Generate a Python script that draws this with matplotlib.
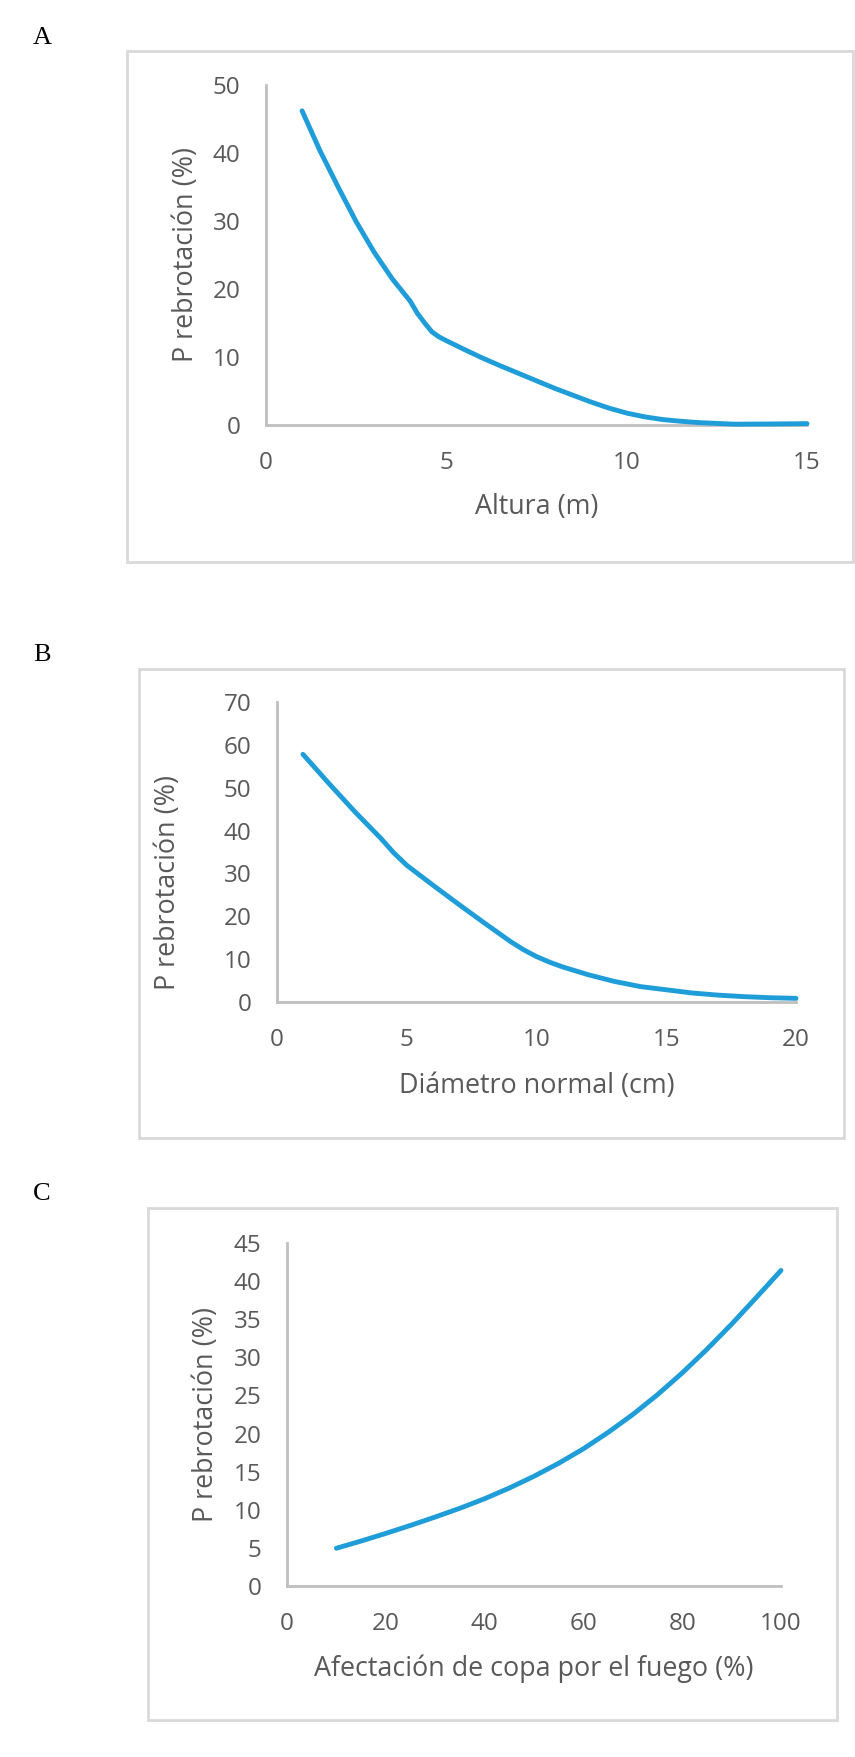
import matplotlib.pyplot as plt
from matplotlib.patches import Rectangle

# Panel A: altura (m)
altura = [1, 1.5, 2, 2.5, 3, 3.5, 4, 4.2, 4.4, 4.6, 4.8, 5, 5.5, 6, 6.5, 7, 7.5, 8, 8.5,
          9, 9.5, 10, 10.5, 11, 11.5, 12, 13, 14, 15]
p_altura = [46.2, 40.3, 35.0, 29.9, 25.4, 21.5, 18.2, 16.4, 15.0, 13.7, 12.95, 12.4, 11.1,
            9.85, 8.7, 7.6, 6.5, 5.4, 4.4, 3.4, 2.5, 1.75, 1.2, 0.8, 0.55, 0.35, 0.12,
            0.15, 0.2]

# Panel B: diametro normal (cm)
diametro = [1, 2, 3, 4, 4.5, 5, 6, 7, 8, 9, 9.5, 10, 10.5, 11, 12, 13, 14, 15, 16, 17,
            18, 19, 20]
p_diametro = [57.8, 51.0, 44.4, 38.2, 34.8, 31.9, 27.3, 22.8, 18.4, 14.1, 12.2, 10.6,
              9.3, 8.2, 6.35, 4.8, 3.6, 2.85, 2.1, 1.6, 1.25, 1.0, 0.85]

# Panel C: afectacion de copa (%)
copa = [10, 15, 20, 25, 30, 35, 40, 45, 50, 55, 60, 65, 70, 75, 80, 85, 90, 95, 100]
p_copa = [4.95, 5.9, 6.9, 7.95, 9.05, 10.2, 11.45, 12.85, 14.4, 16.1, 18.0, 20.15,
          22.5, 25.1, 27.95, 31.05, 34.35, 37.85, 41.4]

W, H = 855, 1757
BLUE = '#1f9dd8'
GREY_TXT = '#595959'
TICK_FS = 17.5
LABEL_FS = 19.4

plt.rcParams['font.family'] = ['Open Sans', 'DejaVu Sans']

fig = plt.figure(figsize=(W / 100, H / 100), dpi=100)

def px_box(x0, y0, x1, y1):
    '''pixel box (top-left origin) -> figure fraction [left, bottom, width, height]'''
    return [x0 / W, 1 - y1 / H, (x1 - x0) / W, (y1 - y0) / H]

def panel(letter, letter_xy, frame, axbox, x, y, xlim, ylim, xticks, yticks, xlabel, ylab_pos, xlab_y):
    l, b, w, h = px_box(*frame)
    fig.add_artist(Rectangle((l, b), w, h, transform=fig.transFigure, fill=False,
                             ec='#d9d9d9', lw=2))
    fig.text(letter_xy[0] / W, 1 - letter_xy[1] / H, letter, family='Liberation Serif',
             fontsize=19, ha='left', va='baseline', color='black')

    ax = fig.add_axes(px_box(*axbox))
    ax.plot(x, y, color=BLUE, lw=3.5, solid_capstyle='round', solid_joinstyle='round',
            clip_on=False, zorder=5)
    ax.set_xlim(*xlim)
    ax.set_ylim(*ylim)
    ax.set_xticks(xticks)
    ax.set_yticks(yticks)
    for s in ['top', 'right']:
        ax.spines[s].set_visible(False)
    for s in ['left', 'bottom']:
        ax.spines[s].set_color('#bfbfbf')
        ax.spines[s].set_linewidth(2)
    ax.tick_params(length=0, pad=18.5, labelsize=TICK_FS, labelcolor=GREY_TXT)
    ax.set_xlabel(xlabel, fontsize=LABEL_FS, color=GREY_TXT)
    ax.set_ylabel('P rebrotación (%)', fontsize=LABEL_FS, color=GREY_TXT)
    ax.xaxis.set_label_coords(0.5, xlab_y)
    ax.yaxis.set_label_coords(*ylab_pos)
    return ax

panel('A', (33, 44), (127, 51, 853, 562), (266, 85, 807, 425),
      altura, p_altura, (0, 15), (0, 50), [0, 5, 10, 15], range(0, 51, 10),
      'Altura (m)', (-0.122, 0.5), -0.2)

panel('B', (33, 661), (139, 669, 844, 1138), (277, 702, 796, 1002),
      diametro, p_diametro, (0, 20), (0, 70), range(0, 21, 5), range(0, 71, 10),
      'Diámetro normal (cm)', (-0.183, 0.40), -0.233)

panel('C', (33, 1200), (148, 1208, 837, 1720), (287, 1243, 781, 1586),
      copa, p_copa, (0, 100), (0, 45), range(0, 101, 20), range(0, 46, 5),
      'Afectación de copa por el fuego (%)', (-0.136, 0.5), -0.201)

fig.savefig('out.png', dpi=100, facecolor='white')
